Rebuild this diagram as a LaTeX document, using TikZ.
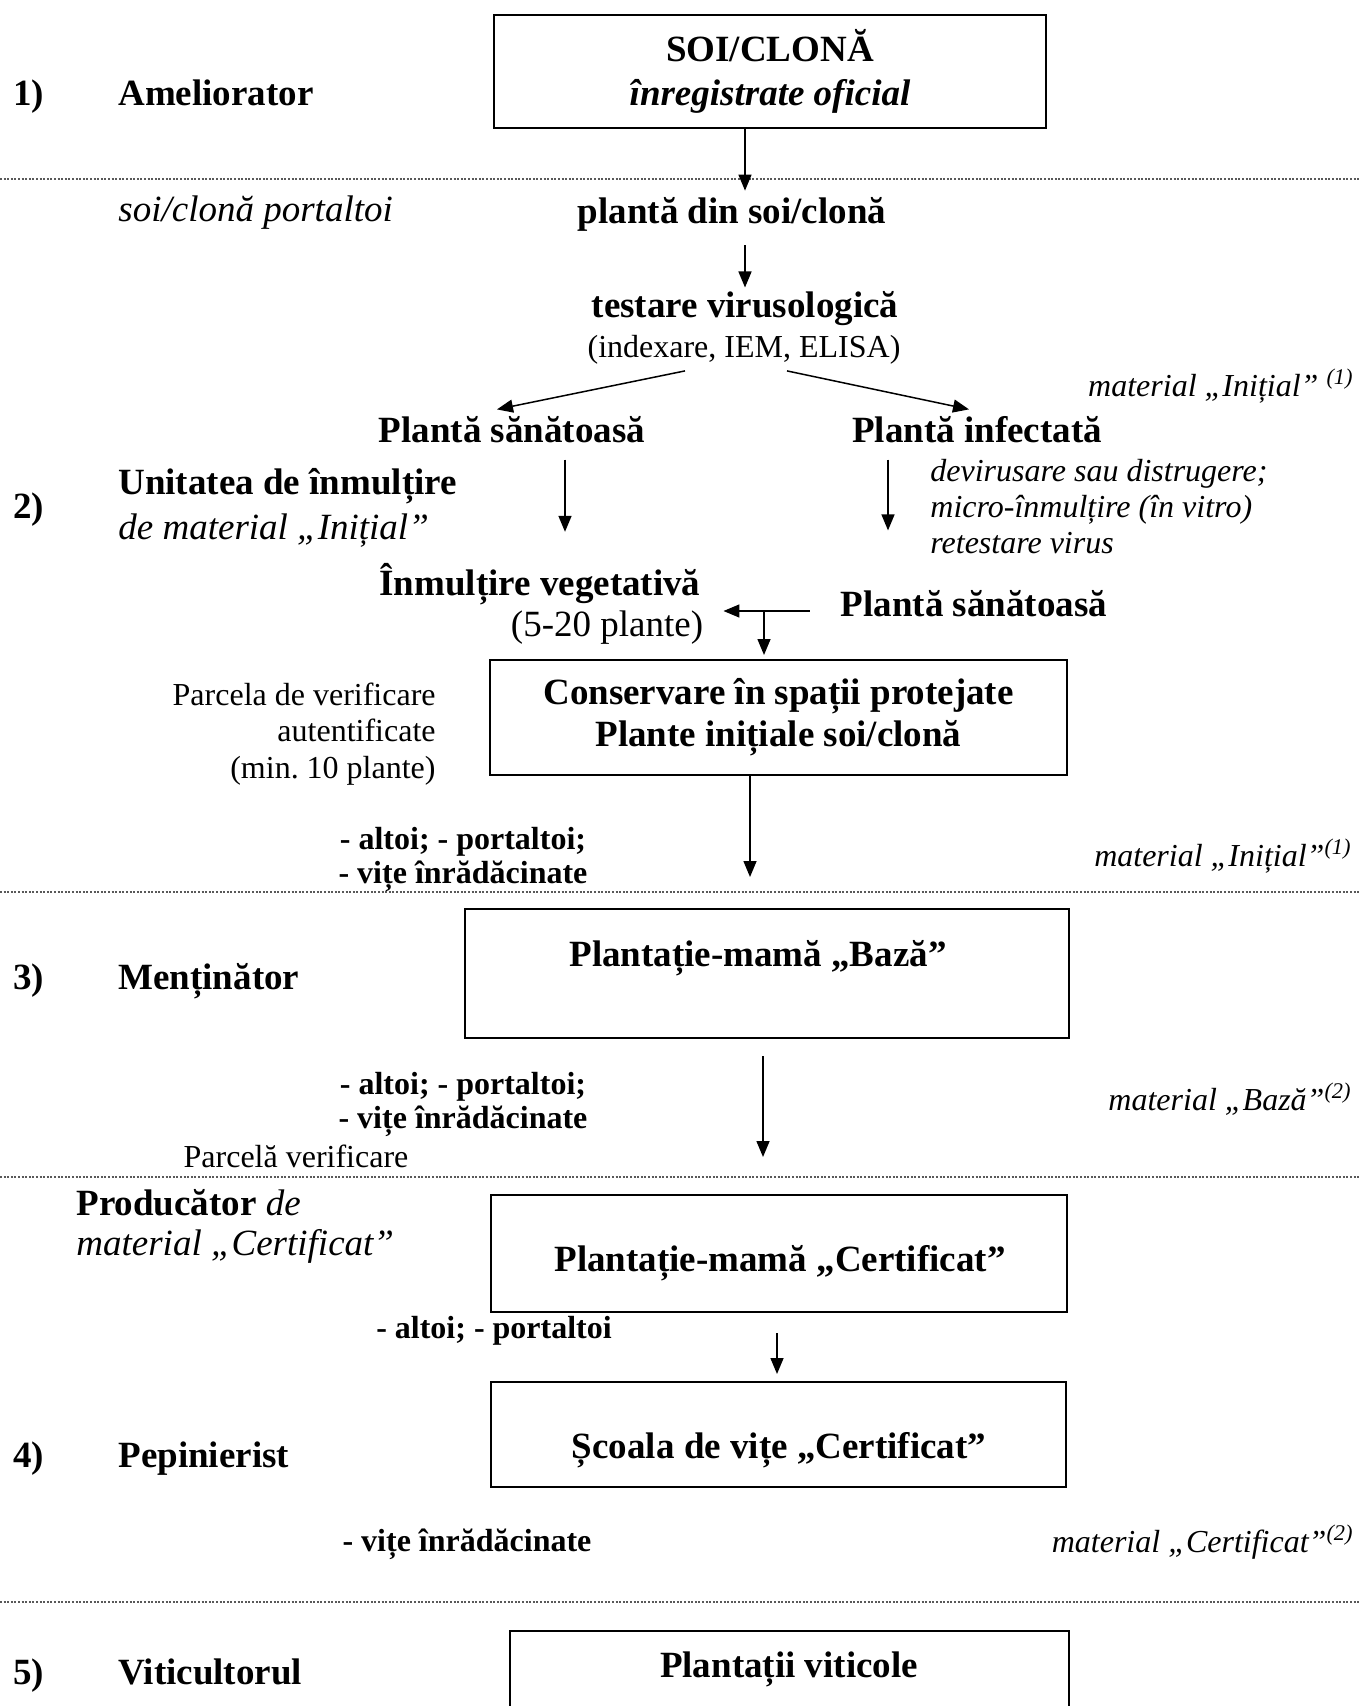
\documentclass[tikz,border=0pt]{standalone}
\usepackage{fontspec}
\setmainfont{Liberation Serif}
\usetikzlibrary{arrows.meta,calc}
\newcommand{\myBig}{\fontsize{18.5}{22.5}\selectfont}
\newcommand{\mySmall}{\fontsize{16}{18}\selectfont}
\tikzset{
  boxe/.style={draw, line width=1pt, inner sep=0pt},
  lbl/.style={inner sep=0pt, font=\myBig\bfseries},
  itl/.style={inner sep=0pt, font=\mySmall\itshape},
  smb/.style={inner sep=0pt, align=center, font=\fontsize{16}{17}\selectfont\bfseries},
  arr/.style={-{Triangle[length=8pt,width=6.5pt]}, line width=0.75pt},
  sepline/.style={gray!70!black, line width=0.6pt, dash pattern=on 1pt off 0.8pt}
}
\begin{document}
\begin{tikzpicture}[x=0.5pt,y=-0.5pt]
\useasboundingbox (0,0) rectangle (1359,1706);
\fill[white] (0,0) rectangle (1359,1706);

% separators
\foreach \yy in {179,892,1177,1602} \draw[sepline] (0,\yy) -- (1359,\yy);

% left column
\node[lbl,anchor=base west] (n1) at (13,106) {1)};
\node[lbl,anchor=base west] (r1) at (118,106) {Ameliorator};
\node[lbl,anchor=west,font=\myBig\itshape] (soip) at (118,213) {soi/clonă portaltoi};
\node[lbl,anchor=west] (n2) at (13,510) {2)};
\node[lbl,anchor=west,align=left] (r2) at (118,508) {Unitatea de înmulțire\\{\mdseries\itshape de material „Inițial”}};
\node[lbl,anchor=base west] (n3) at (13,989) {3)};
\node[lbl,anchor=base west] (r3) at (118,989) {Menținător};
\node[lbl,anchor=west,align=left,font=\fontsize{18.5}{20}\selectfont\bfseries] (r3b) at (76,1226) {Producător {\mdseries\itshape de}\\{\mdseries\itshape material „Certificat”}};
\node[lbl,anchor=base west] (n4) at (13,1467) {4)};
\node[lbl,anchor=base west] (r4) at (118,1467) {Pepinierist};
\node[lbl,anchor=base west] (n5) at (13,1684) {5)};
\node[lbl,anchor=base west] (r5) at (118,1684) {Viticultorul};

% center column
\node[boxe,align=center,minimum width=276pt,minimum height=56.5pt,font=\fontsize{18.5}{22}\selectfont\bfseries] (b1) at (770,71.5) {SOI/CLONĂ\\\textit{înregistrate oficial}};
\node[lbl] (p1) at (732,214) {plantă din soi/clonă};
\node[lbl] (t1) at (745,309) {testare virusologică};
\node[inner sep=0pt,font=\mySmall] (t2) at (744,350) {(indexare, IEM, ELISA)};
\node[lbl] (s1) at (512,430) {Plantă sănătoasă};
\node[lbl] (i1) at (977,430) {Plantă infectată};
\node[itl,anchor=west,align=left,font=\fontsize{16}{18}\selectfont\itshape] (dv) at (930,507) {devirusare sau distrugere;\\micro-înmulțire (în vitro)\\retestare virus};
\node[itl,anchor=east] (m1) at (1354,386) {material „Inițial” \textsuperscript{(1)}};
\node[lbl] (v1) at (540,584) {Înmulțire vegetativă};
\node[inner sep=0pt,font=\myBig] (v2) at (607,628) {(5-20 plante)};
\node[lbl] (s2) at (974,604) {Plantă sănătoasă};
\coordinate (jn) at (764,611);
\node[boxe,align=center,minimum width=288.5pt,minimum height=57.5pt,font=\fontsize{18.5}{21}\selectfont\bfseries] (b2) at (778.5,717.5) {Conservare în spații protejate\\Plante inițiale soi/clonă};
\node[inner sep=0pt,anchor=east,align=right,font=\fontsize{16}{18.25}\selectfont] (pc) at (436,734) {Parcela de verificare\\autentificate\\(min.\ 10 plante)};
\node[smb] (a1) at (463,859) {- altoi; - portaltoi;\\- vițe înrădăcinate};
\node[itl,anchor=east] (m2) at (1352,856) {material „Inițial”\textsuperscript{(1)}};

\node[boxe,minimum width=302pt,minimum height=64.5pt] (b3) at (767,973.5) {};
\node[lbl] (b3t) at (758,958) {Plantație-mamă „Bază”};
\node[smb] (a2) at (463,1104) {- altoi; - portaltoi;\\- vițe înrădăcinate};
\node[inner sep=0pt,font=\mySmall] (pv) at (296,1156) {Parcelă verificare};
\node[itl,anchor=east] (m3) at (1352,1099) {material „Bază”\textsuperscript{(2)}};

\node[boxe,minimum width=288pt,minimum height=58.5pt] (b4) at (779,1253.5) {};
\node[lbl] (b4t) at (780,1263) {Plantație-mamă „Certificat”};
\node[smb] (a3) at (494,1331) {- altoi; - portaltoi};

\node[boxe,minimum width=287.5pt,minimum height=52.5pt] (b5) at (778.5,1434.5) {};
\node[lbl] (b5t) at (779,1450) {Școala de vițe „Certificat”};
\node[smb] (a4) at (467,1544) {- vițe înrădăcinate};
\node[itl,anchor=east] (m4) at (1354,1542) {material „Certificat”\textsuperscript{(2)}};

\node[boxe,minimum width=279.5pt,minimum height=55pt] (b6) at (789.5,1686) {};
\node[lbl] (b6t) at (789,1669) {Plantații viticole};

% arrows
\draw[arr,shorten >=3pt] (b1.south -| t1) -- (p1.north -| t1);
\draw[arr,shorten <=7pt,shorten >=2pt] (p1.south -| t1) -- (t1.north);
\draw[arr] ([xshift=-29.5pt,yshift=-3pt]t2.south) -- ([xshift=-7.5pt,yshift=3.5pt]s1.north);
\draw[arr] ([xshift=21.5pt,yshift=-3pt]t2.south) -- ([xshift=-4pt,yshift=3.5pt]i1.north);
\draw[arr,shorten <=8pt,shorten >=15.5pt] ([xshift=26.5pt]s1.south) -- ([xshift=26.5pt]s1.south |- v1.north);
\draw[arr,shorten <=8pt,shorten >=30pt] ([xshift=-44.5pt]i1.south) -- ([xshift=-44.5pt]i1.south |- s2.north);
\draw[arr,shorten <=15.5pt,shorten >=10pt] (jn -| s2.west) -- (jn -| v2.east);
\draw[arr,shorten >=2pt] (jn) -- (jn |- b2.north);
\draw[arr,shorten >=15.5pt] ([xshift=-14.25pt]b2.south) -- ([xshift=-14.25pt]b2.south |- b3.north);
\draw[arr,shorten <=8.5pt,shorten >=18.5pt] ([xshift=-2pt]b3.south) -- ([xshift=-2pt]b3.south |- b4.north);
\draw[arr,shorten <=10pt,shorten >=3.5pt] ([xshift=-1pt]b4.south) -- ([xshift=-1pt]b4.south |- b5.north);
\end{tikzpicture}
\end{document}
